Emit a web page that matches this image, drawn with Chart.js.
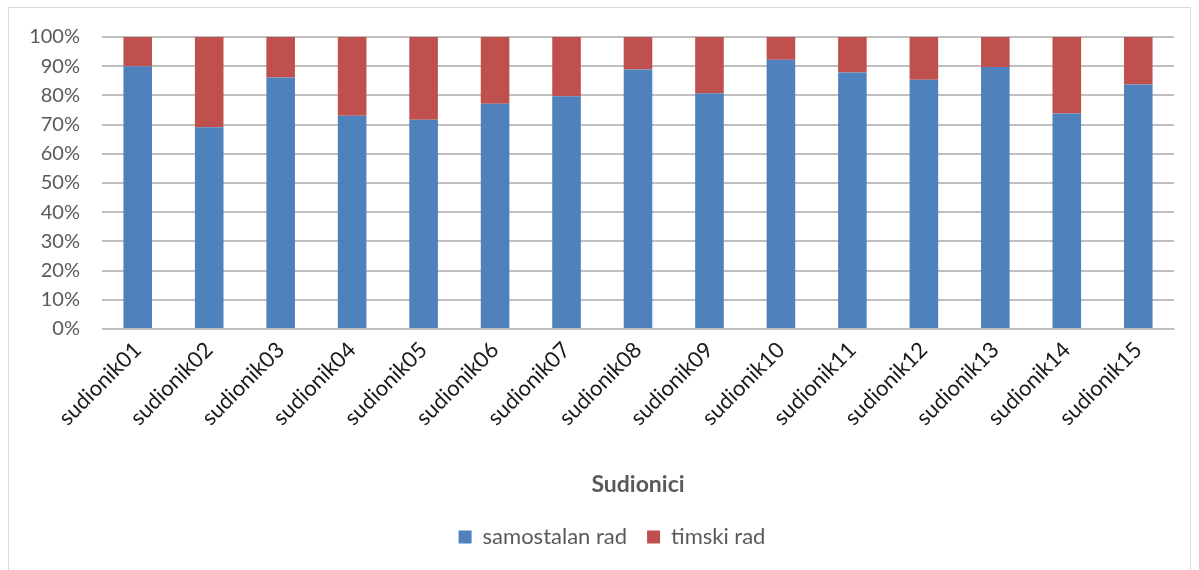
<!DOCTYPE html>
<html lang="hr">
<head>
<meta charset="UTF-8">
<script src="https://cdn.jsdelivr.net/npm/chart.js"></script>
<title>Sudionici</title>
<style>
  body { margin: 0; background: #fff; }
  #wrap { position: relative; width: 1199px; height: 570px; }
  #frame { position: absolute; left: 8px; top: 7px; width: 1181px; height: 570px; border: 1px solid #d9d9d9; pointer-events: none; }
</style>
</head>
<body>
<div id="wrap">
  <canvas id="myChart" width="1199" height="570"></canvas>
  <div id="frame"></div>
</div>
<script>
const labels = ['sudionik01','sudionik02','sudionik03','sudionik04','sudionik05','sudionik06','sudionik07','sudionik08',
  'sudionik09','sudionik10','sudionik11','sudionik12','sudionik13','sudionik14','sudionik15'];
// % samostalan rad
const samostalan = [90, 69.1, 86.1, 73.0, 71.7, 77.1, 79.7, 88.9, 80.7, 92.2, 87.8, 85.4, 89.7, 73.8, 83.7];
const timski = samostalan.map(v => +(100 - v).toFixed(1));

const FONT = 'Lato, "Open Sans", sans-serif';
const textColor = '#595959';

const ctx = document.getElementById('myChart').getContext('2d');
new Chart(ctx, {
  type: 'bar',
  data: {
    labels: labels,
    datasets: [{
      label: 'samostalan rad',
      data: samostalan,
      backgroundColor: '#4f81bd',
      borderWidth: 0
    }, {
      label: 'timski rad',
      data: timski,
      backgroundColor: '#c0504d',
      borderWidth: 0
    }]
  },
  options: {
    responsive: false,
    animation: false,
    layout: { padding: { top: 37, bottom: 12, left: 25, right: 0 } },
    datasets: { bar: { categoryPercentage: 1, barPercentage: 0.4 } },
    plugins: {
      legend: {
        position: 'bottom',
        labels: { boxWidth: 13, boxHeight: 13, color: textColor, font: { family: FONT, size: 22 }, padding: 20 }
      },
      tooltip: { enabled: false }
    },
    scales: {
      x: {
        stacked: true,
        grid: { display: false, drawTicks: false },
        border: { color: '#bfbfbf' },
        ticks: { color: '#1a1a1a', font: { family: FONT, size: 22 }, maxRotation: 45, minRotation: 45, padding: 8 },
        title: { display: true, text: 'Sudionici', color: textColor, font: { family: FONT, size: 23, weight: 'bold' }, padding: { top: 0, bottom: 8 } },
        afterFit: s => { s.height = 177; }
      },
      y: {
        stacked: true,
        min: 0, max: 100,
        grid: { color: '#bfbfbf', lineWidth: 2, drawTicks: false },
        border: { display: false },
        ticks: { stepSize: 10, color: textColor, font: { family: FONT, size: 20 }, padding: 22, callback: v => v + '%' },
        afterFit: s => { s.width = 77; }
      },
      // empty spacer on the right so the plot ends where the reference does
      yRight: {
        type: 'linear',
        position: 'right',
        grid: { display: false },
        border: { display: false },
        ticks: { display: false },
        afterFit: s => { s.width = 25; }
      }
    }
  }
});
</script>
</body>
</html>
